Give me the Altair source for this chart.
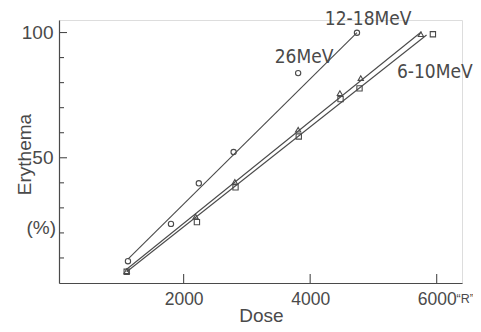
import altair as alt
import pandas as pd

# ---- data ----
# 12-18 MeV (open circles)
c_x = [1120, 1800, 2240, 2790, 4740]
c_y = [8.7, 23.6, 39.8, 52.3, 99.9]
# 26 MeV (single open circle)
c26_x = [3810]
c26_y = [83.8]
# 6-10 MeV, triangles
t_x = [1100, 2190, 2810, 3810, 4470, 4800, 5750]
t_y = [4.7, 26.5, 40.4, 61.2, 75.8, 81.8, 99.3]
# 6-10 MeV, squares
s_x = [1100, 2210, 2820, 3820, 4480, 4780, 5940]
s_y = [4.5, 24.3, 38.2, 58.5, 73.4, 77.7, 99.3]
# fitted straight lines (end points)
l1_x = [1120, 4740]
l1_y = [9.5, 100.0]
l2_x = [1100, 5760]
l2_y = [5.5, 100.3]
l3_x = [1100, 5840]
l3_y = [4.5, 99.0]

x_ticks = [2000, 4000, 6000]
y_ticks = [10, 20, 30, 40, 50, 60, 70, 80, 90, 100]
y_major = [50, 100]

labels = ["12-18MeV", "26MeV", "6-10MeV"]
label_x = [4232, 3440, 5371]
label_y = [102.9, 87.8, 81.9]

W, H = 403, 263
INK = "#4a4a4a"
FONT = "Liberation Sans"
NFONT = "Liberation Sans Narrow, DejaVu Sans Condensed, Liberation Sans"

xs = alt.Scale(domain=[30, 6400], nice=False, zero=False)
ys = alt.Scale(domain=[0, 105], nice=False, zero=False)

def line_df(xv, yv, name):
    return pd.DataFrame({"x": xv, "y": yv, "s": name})

lines = pd.concat([line_df(l1_x, l1_y, "a"), line_df(l2_x, l2_y, "b"), line_df(l3_x, l3_y, "c")])

xaxis = alt.Axis(values=x_ticks, ticks=False, grid=False, title="Dose", format="d",
                 labelFont=FONT, labelFontSize=17.5, labelColor=INK, labelPadding=7,
                 labelFontWeight="normal", domainColor=INK, domainWidth=1.2,
                 titleFont=FONT, titleFontSize=19, titleFontWeight="normal", titleColor=INK,
                 titleX=202, titleY=38, titleBaseline="alphabetic", titleAlign="center")
yaxis = alt.Axis(values=y_major, ticks=False, grid=False, title="Erythema", format="d",
                 labelFont=FONT, labelFontSize=19, labelColor=INK, labelPadding=6,
                 domainColor=INK, domainWidth=1.2,
                 titleFont=FONT, titleFontSize=19, titleFontWeight="normal", titleColor=INK,
                 titleX=-35, titleY=134, titleAngle=270, titleBaseline="middle", titleAlign="center")

line_layer = alt.Chart(lines).mark_line(color=INK, strokeWidth=1.1).encode(
    x=alt.X("x:Q", scale=xs, axis=xaxis),
    y=alt.Y("y:Q", scale=ys, axis=yaxis),
    detail="s:N",
)

def pts(xv, yv, shape):
    return alt.Chart(pd.DataFrame({"x": xv, "y": yv})).mark_point(
        shape=shape, filled=False, color=INK, size=28, strokeWidth=1.1, opacity=1
    ).encode(x=alt.X("x:Q", scale=xs), y=alt.Y("y:Q", scale=ys))

p1 = pts(c_x, c_y, "circle")
p2 = pts(c26_x, c26_y, "circle")
p3 = pts(t_x, t_y, "triangle-up")
p4 = pts(s_x, s_y, "square")

# inward ticks
xt = alt.Chart(pd.DataFrame({"x": x_ticks})).mark_rule(color=INK, strokeWidth=1.1).encode(
    x=alt.X("x:Q", scale=xs), y=alt.value(H), y2=alt.value(H - 9))
yt_df = pd.DataFrame({"y": y_ticks, "len": [8 if v in y_major else 5 for v in y_ticks]})
yt = alt.Chart(yt_df).transform_filter("datum.len == 8").mark_rule(color=INK, strokeWidth=1.1).encode(
    y=alt.Y("y:Q", scale=ys), x=alt.value(0), x2=alt.value(8)) + \
    alt.Chart(yt_df).transform_filter("datum.len == 5").mark_rule(color=INK, strokeWidth=1.1).encode(
    y=alt.Y("y:Q", scale=ys), x=alt.value(0), x2=alt.value(5))

ann = alt.Chart(pd.DataFrame({"t": labels, "x": label_x, "y": label_y})).mark_text(
    font=NFONT, fontSize=19, color=INK, align="left", baseline="alphabetic"
).encode(x=alt.X("x:Q", scale=xs), y=alt.Y("y:Q", scale=ys), text="t:N")

unit = alt.Chart(pd.DataFrame({"t": ["\u201cR\u201d"], "x": [6315], "y": [-8.0]})).mark_text(
    font=FONT, fontSize=12.5, color=INK, align="left", baseline="alphabetic"
).encode(x=alt.X("x:Q", scale=xs), y=alt.Y("y:Q", scale=ys), text="t:N")

pct = alt.Chart(pd.DataFrame({"t": ["(%)"], "x": [-250], "y": [22.0]})).mark_text(
    font=FONT, fontSize=19, color=INK, align="center", baseline="middle"
).encode(x=alt.X("x:Q", scale=xs), y=alt.Y("y:Q", scale=ys), text="t:N")

chart = alt.layer(line_layer, xt, yt, p1, p2, p3, p4, ann, unit, pct).properties(
    width=W, height=H,
    autosize=alt.AutoSizeParams(type="none"),
    padding={"left": 51, "top": 12, "right": 11, "bottom": 41},
).configure_view(stroke=None).configure(background="white")

chart.save("out.html", embed_options={"renderer": "svg", "actions": False})
